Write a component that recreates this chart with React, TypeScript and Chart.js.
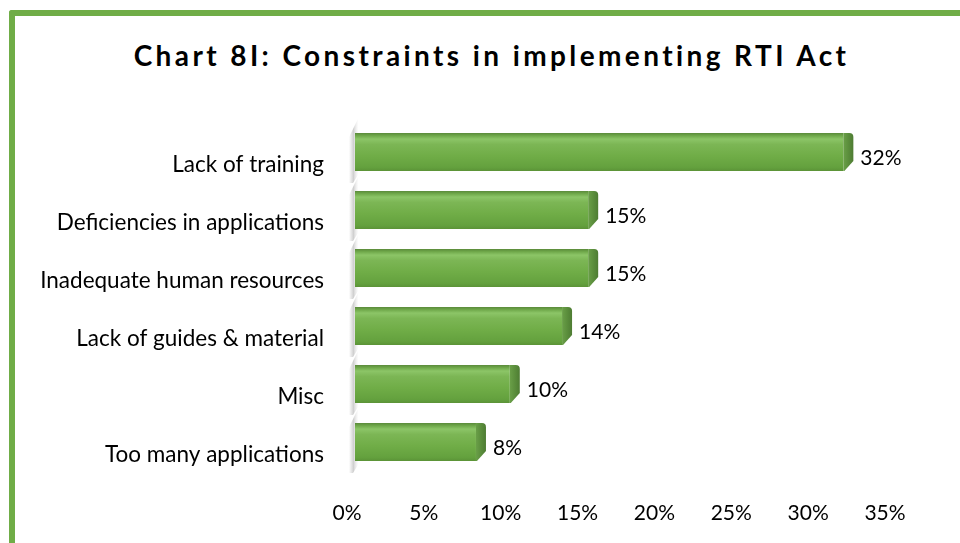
import React, { useEffect, useRef } from 'react';
import { Chart, registerables } from 'chart.js';

Chart.register(...registerables);

const chartTitle = 'Chart 8I: Constraints in implementing RTI Act';
const categories = [
  'Lack of training',
  'Deficiencies in applications',
  'Inadequate human resources',
  'Lack of guides & material',
  'Misc',
  'Too many applications',
];
// bar lengths (percent); labels show them rounded
const values = [31.9, 15.3, 15.3, 13.6, 10.2, 8.0];
const xTickLabels = ['0%', '5%', '10%', '15%', '20%', '25%', '30%', '35%'];

const FONT = 'Lato, "Open Sans", sans-serif';

const bar3d = {
  id: 'bar3d',
  afterDatasetsDraw(chart: any) {
    const ctx = chart.ctx as CanvasRenderingContext2D;
    const meta = chart.getDatasetMeta(0);
    meta.data.forEach((el: any, i: number) => {
      const { x, y, base, height } = el.getProps(['x', 'y', 'base', 'height'], true);
      const top = y - height / 2;
      const bottom = y + height / 2;
      const x0 = base + 6;
      const xf = x + 4;
      const xs = xf + 10;
      ctx.save();
      // wall shadow strip
      const sg = ctx.createLinearGradient(base, 0, base + 9, 0);
      sg.addColorStop(0, 'rgba(170,170,170,0.0)');
      sg.addColorStop(0.5, 'rgba(170,170,170,0.55)');
      sg.addColorStop(1, 'rgba(230,230,230,0.15)');
      ctx.fillStyle = sg;
      ctx.beginPath();
      ctx.moveTo(base, top + 4);
      ctx.lineTo(base + 9, top - 14);
      ctx.lineTo(base + 9, bottom + 4);
      ctx.lineTo(base + 4, bottom + 12);
      ctx.lineTo(base, bottom + 12);
      ctx.closePath();
      ctx.fill();

      // front face
      const fg = ctx.createLinearGradient(0, top, 0, bottom);
      fg.addColorStop(0, '#5a8a3a');
      fg.addColorStop(0.07, '#6fa84a');
      fg.addColorStop(0.16, '#8cc567');
      fg.addColorStop(0.3, '#7cb655');
      fg.addColorStop(0.6, '#70ad47');
      fg.addColorStop(0.9, '#64a13e');
      fg.addColorStop(1, '#5b9337');
      ctx.fillStyle = fg;
      ctx.fillRect(x0, top, xf - x0, height);

      // side face
      const sideG = ctx.createLinearGradient(xf, 0, xs, 0);
      sideG.addColorStop(0, '#6a9f48');
      sideG.addColorStop(0.5, '#5b8e3c');
      sideG.addColorStop(1, '#4e7c33');
      ctx.fillStyle = sideG;
      ctx.beginPath();
      ctx.moveTo(xf, top);
      ctx.lineTo(xs - 4, top);
      ctx.quadraticCurveTo(xs, top, xs, top + 4);
      ctx.lineTo(xs, bottom - 10);
      ctx.lineTo(xf + 1, bottom);
      ctx.lineTo(xf, bottom);
      ctx.closePath();
      ctx.fill();

      // value label
      ctx.fillStyle = '#000';
      ctx.font = `21px ${FONT}`;
      ctx.textAlign = 'left';
      ctx.textBaseline = 'middle';
      ctx.fillText(Math.round(values[i]) + '%', xs + 7, y + 6);
      ctx.restore();
    });
  },
};

export default function App() {
  const ref = useRef<HTMLCanvasElement | null>(null);

  useEffect(() => {
    if (!ref.current) return;
    const chart = new Chart(ref.current, {
      type: 'bar',
      data: {
        labels: categories,
        datasets: [
          {
            data: values,
            backgroundColor: 'rgba(0,0,0,0)',
            borderWidth: 0,
            categoryPercentage: 1,
            barPercentage: 38 / 58,
          },
        ],
      },
      options: {
        indexAxis: 'y',
        responsive: false,
        animation: false,
        devicePixelRatio: 1,
        layout: { padding: { top: 123, left: 0, right: 73, bottom: 0 } },
        plugins: {
          legend: { display: false },
          tooltip: { enabled: false },
          title: { display: false },
        },
        scales: {
          x: {
            min: 0,
            max: 35,
            ticks: {
              stepSize: 5,
              callback: (_v: any, idx: number) => xTickLabels[idx],
              font: { family: FONT, size: 21 },
              color: '#000',
              padding: 30,
              labelOffset: -2,
              maxRotation: 0,
            },
            grid: { display: false, drawTicks: false },
            border: { display: false },
            afterFit: (s: any) => {
              s.height = 72;
            },
          },
          y: {
            ticks: {
              font: { family: FONT, size: 22.5 },
              color: '#000',
              padding: 25,
              labelOffset: 13,
            },
            grid: { display: false, drawTicks: false },
            border: { display: false },
            afterFit: (s: any) => {
              s.width = 349;
            },
          },
        },
      },
      plugins: [bar3d],
    });
    return () => chart.destroy();
  }, []);

  return (
    <div
      style={{
        position: 'fixed',
        left: 0,
        top: 0,
        width: 960,
        height: 543,
        overflow: 'hidden',
        background: '#fff',
      }}
    >
      <div
        style={{
          position: 'absolute',
          left: 9,
          top: 10,
          width: 1000,
          height: 600,
          borderLeft: '6px solid #70ad47',
          borderTop: '6px solid #70ad47',
          borderTopLeftRadius: 3,
        }}
      />
      <div
        style={{
          position: 'absolute',
          left: 0,
          top: 38,
          width: 983,
          textAlign: 'center',
          fontFamily: FONT,
          fontWeight: 700,
          fontSize: 28,
          lineHeight: '34px',
          letterSpacing: 3.4,
          color: '#000',
          whiteSpace: 'nowrap',
        }}
      >
        {chartTitle}
      </div>
      <canvas
        ref={ref}
        width={960}
        height={543}
        style={{ position: 'absolute', left: 0, top: 0, width: 960, height: 543 }}
      />
    </div>
  );
}
